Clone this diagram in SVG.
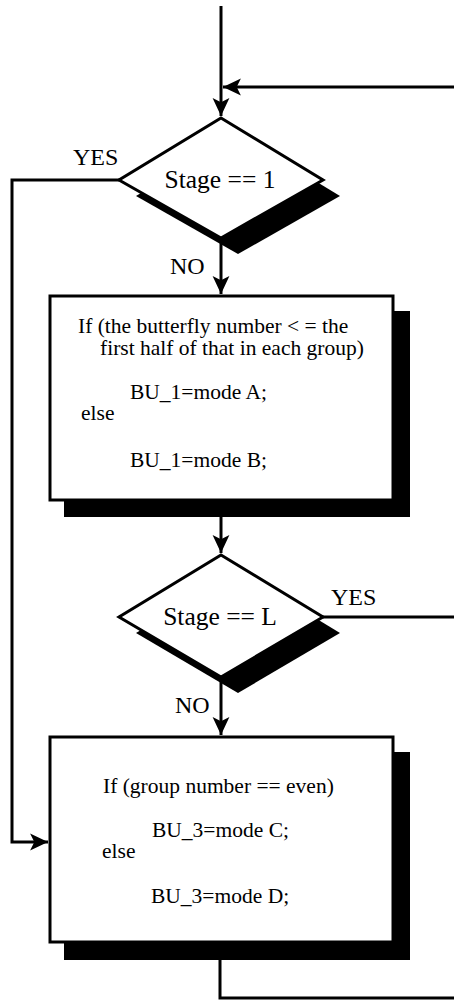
<svg xmlns="http://www.w3.org/2000/svg" width="454" height="1000" viewBox="0 0 454 1000">
<style>
.ln{fill:none;stroke:#000;stroke-width:3}
.shape{fill:#fff;stroke:#000;stroke-width:3;stroke-linejoin:miter}
.shadow{fill:#000;stroke:none}
.t{font-family:"Liberation Serif","Times New Roman",serif;fill:#000}
.big{font-size:24px}
.dec{font-size:25.5px}
.txt{font-size:21.5px}
</style>
<defs>
<marker id="arr" markerUnits="userSpaceOnUse" markerWidth="20" markerHeight="20" viewBox="-18 -9 19 18" refX="0" refY="0" orient="auto">
<path d="M0,0 L-17,-8 L-13,0 L-17,8 Z" fill="#000"/>
</marker>
</defs>
<rect width="454" height="1000" fill="#fff"/>
<g id="connectors">
<path class="ln" d="M221,6 V116" marker-end="url(#arr)"/>
<path class="ln" d="M454,87 H223" marker-end="url(#arr)"/>
<path class="ln" d="M119,180 H12 V842 H48" marker-end="url(#arr)"/>
<path class="ln" d="M221,238 V294" marker-end="url(#arr)"/>
<path class="ln" d="M221,500 V553" marker-end="url(#arr)"/>
<path class="ln" d="M323,617 H454"/>
<path class="ln" d="M221,677 V735" marker-end="url(#arr)"/>
<path class="ln" d="M220,960 V998 H454"/>
<text class="t big" x="73" y="165">YES</text>
<text class="t big" x="170" y="274">NO</text>
<text class="t big" x="331" y="605">YES</text>
<text class="t big" x="175" y="713">NO</text>
</g>
<g id="decision1">
<polygon class="shadow" points="238,134 340,196 238,254 136,196"/>
<polygon class="shape" points="221,118 323,180 221,238 119,180"/>
<text class="t dec" x="220" y="188" text-anchor="middle">Stage == 1</text>
</g>
<g id="process1">
<rect class="shadow" x="64" y="311" width="346" height="206"/>
<rect class="shape" x="50" y="296" width="343" height="204"/>
<text class="t txt" x="78" y="333">If (the butterfly number &lt; = the</text>
<text class="t txt" x="100" y="355">first half of that in each group)</text>
<text class="t txt" x="130" y="399">BU_1=mode A;</text>
<text class="t txt" x="81" y="420">else</text>
<text class="t txt" x="130" y="467">BU_1=mode B;</text>
</g>
<g id="decision2">
<polygon class="shadow" points="238,571 340,633 238,693 136,633"/>
<polygon class="shape" points="221,555 323,617 221,677 119,617"/>
<text class="t dec" x="220" y="625" text-anchor="middle">Stage == L</text>
</g>
<g id="process2">
<rect class="shadow" x="64" y="752" width="346" height="208"/>
<rect class="shape" x="50" y="737" width="343" height="205"/>
<text class="t txt" x="103" y="793">If (group number == even)</text>
<text class="t txt" x="152" y="837">BU_3=mode C;</text>
<text class="t txt" x="102" y="858">else</text>
<text class="t txt" x="151" y="903">BU_3=mode D;</text>
</g>
</svg>
